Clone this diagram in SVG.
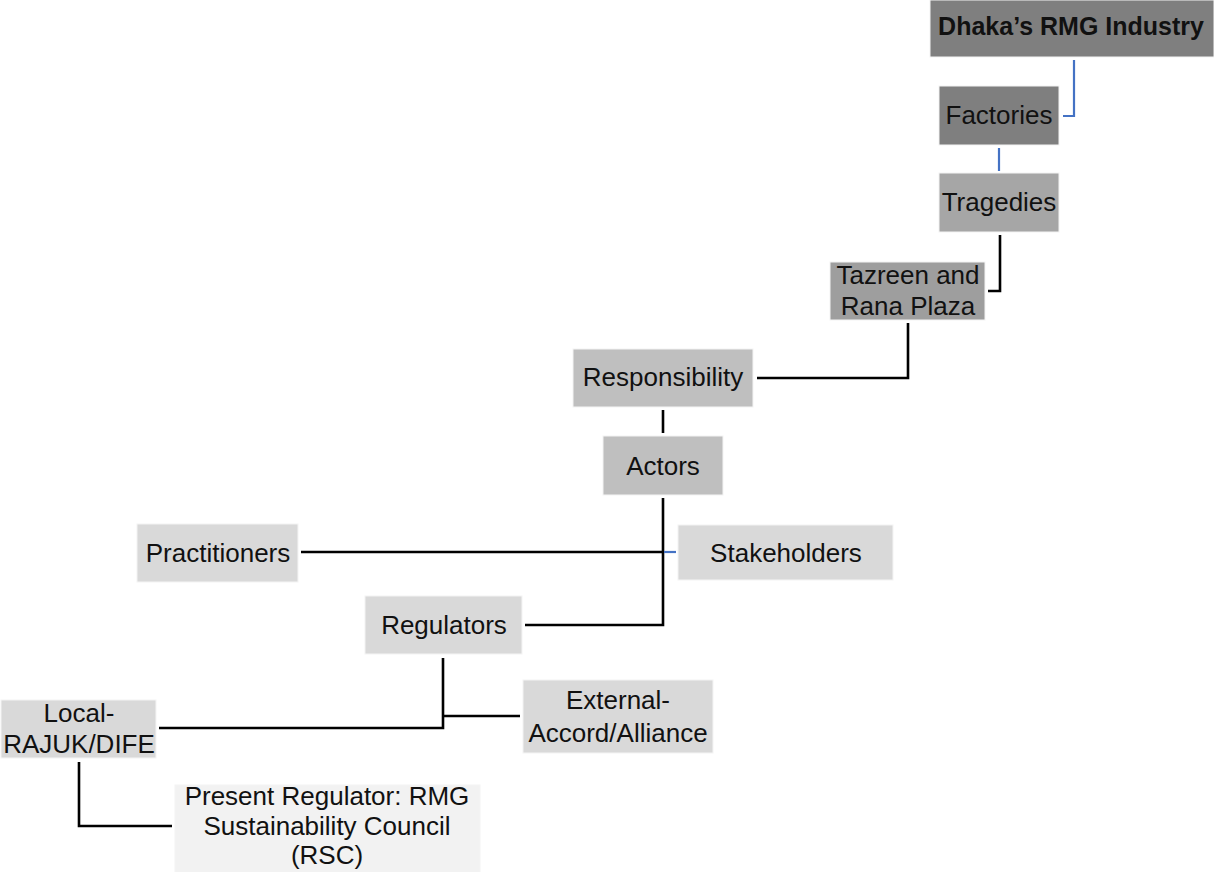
<svg xmlns="http://www.w3.org/2000/svg" width="1214" height="872" viewBox="0 0 1214 872">
  <style>
    .lbl { font-family: "Liberation Sans", Arial, sans-serif; font-size: 26px; fill: #111; text-anchor: middle; }
    .bold { font-weight: bold; font-size: 25px; }
    .box { stroke: #f4f4f4; stroke-width: 1; }
    .k { fill: none; stroke: #000; stroke-width: 2.6; }
    .b { fill: none; stroke: #4472c4; stroke-width: 2.2; }
  </style>
  <rect width="1214" height="872" fill="#fff"/>

  <!-- connectors -->
  <g id="connectors">
    <polyline class="b" points="1074,60 1074,116 1063,116"/>
    <line class="b" x1="999" y1="148" x2="999" y2="171"/>
    <polyline class="k" points="1000,235 1000,291 988,291"/>
    <polyline class="k" points="908,323 908,378 757,378"/>
    <line class="k" x1="663" y1="410" x2="663" y2="433"/>
    <polyline class="k" points="663,498 663,625 525,625"/>
    <line class="k" x1="301" y1="552" x2="663" y2="552"/>
    <line class="b" x1="664" y1="552" x2="676" y2="552"/>
    <polyline class="k" points="443,658 443,728 159,728"/>
    <line class="k" x1="443" y1="716" x2="520" y2="716"/>
    <polyline class="k" points="79,762 79,826 172,826"/>
  </g>

  <g id="dhaka">
    <rect class="box" x="930" y="0" width="284" height="57" fill="#7f7f7f"/>
    <text class="lbl bold" x="1071" y="35">Dhaka’s RMG Industry</text>
  </g>
  <g id="factories">
    <rect class="box" x="939" y="86" width="120" height="59" fill="#7f7f7f"/>
    <text class="lbl" x="999" y="124">Factories</text>
  </g>
  <g id="tragedies">
    <rect class="box" x="939" y="173" width="120" height="59" fill="#a6a6a6"/>
    <text class="lbl" x="999" y="211">Tragedies</text>
  </g>
  <g id="tazreen">
    <rect class="box" x="830" y="262" width="155" height="58" fill="#9e9e9e"/>
    <text class="lbl" x="908" y="284">Tazreen and</text>
    <text class="lbl" x="908" y="315">Rana Plaza</text>
  </g>
  <g id="responsibility">
    <rect class="box" x="573" y="349" width="180" height="58" fill="#bfbfbf"/>
    <text class="lbl" x="663" y="386">Responsibility</text>
  </g>
  <g id="actors">
    <rect class="box" x="603" y="436" width="120" height="59" fill="#bfbfbf"/>
    <text class="lbl" x="663" y="475">Actors</text>
  </g>
  <g id="practitioners">
    <rect class="box" x="137" y="524" width="161" height="58" fill="#d9d9d9"/>
    <text class="lbl" x="218" y="562">Practitioners</text>
  </g>
  <g id="stakeholders">
    <rect class="box" x="678" y="525" width="215" height="55" fill="#d9d9d9"/>
    <text class="lbl" x="786" y="562">Stakeholders</text>
  </g>
  <g id="regulators">
    <rect class="box" x="365" y="596" width="157" height="58" fill="#d9d9d9"/>
    <text class="lbl" x="444" y="634">Regulators</text>
  </g>
  <g id="external">
    <rect class="box" x="523" y="680" width="190" height="73" fill="#d9d9d9"/>
    <text class="lbl" x="618" y="709">External-</text>
    <text class="lbl" x="618" y="742">Accord/Alliance</text>
  </g>
  <g id="local">
    <rect class="box" x="1" y="700" width="155" height="58" fill="#d9d9d9"/>
    <text class="lbl" x="79" y="722">Local-</text>
    <text class="lbl" x="79" y="753">RAJUK/DIFE</text>
  </g>
  <g id="present">
    <rect class="box" x="175" y="785" width="305" height="90" fill="#f2f2f2"/>
    <text class="lbl" x="327" y="805">Present Regulator: RMG</text>
    <text class="lbl" x="327" y="835">Sustainability Council</text>
    <text class="lbl" x="327" y="864">(RSC)</text>
  </g>
</svg>
